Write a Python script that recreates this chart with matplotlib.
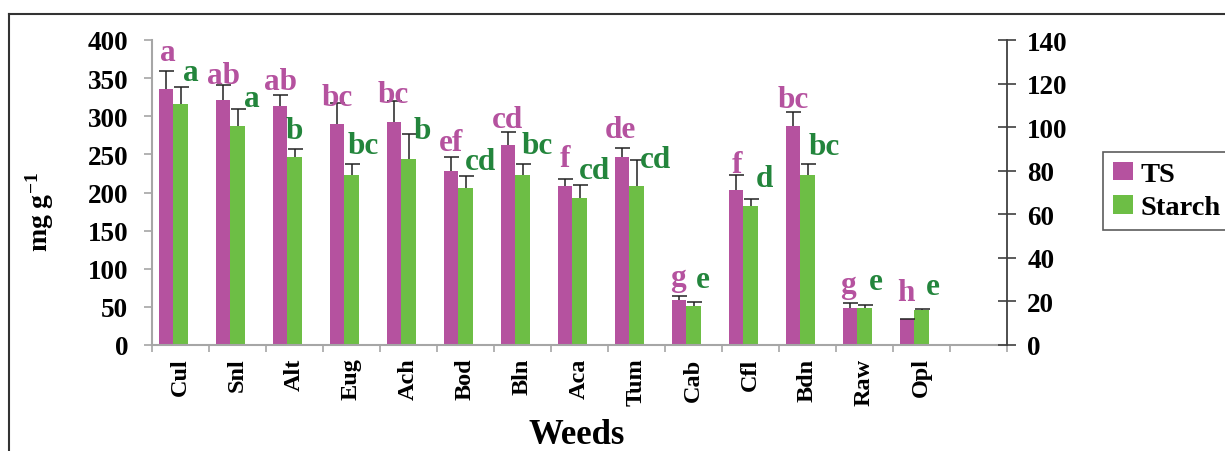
import numpy as np
import matplotlib
matplotlib.use("Agg")
import matplotlib.pyplot as plt
from matplotlib.lines import Line2D
from matplotlib.patches import Patch

# ---- data ----
categories = ["Cul", "Snl", "Alt", "Eug", "Ach", "Bod", "Bln", "Aca", "Tum",
              "Cab", "Cfl", "Bdn", "Raw", "Opl"]
ts_values = [336, 321, 313, 290, 292, 228, 262, 208, 247, 59, 203, 287, 49, 34]
ts_err = [23, 20, 15, 28, 28, 18, 17, 10, 12, 5, 20, 18, 6, 0.5]
starch_values = [316, 287, 247, 223, 244, 206, 223, 193, 208, 51, 182, 223, 48, 46]
starch_err = [22, 23, 10, 15, 33, 15, 15, 17, 35, 5, 10, 15, 4, 1]

ts_letters = ["a", "ab", "ab", "bc", "bc", "ef", "cd", "f", "de", "g", "f", "bc", "g", "h"]
ts_letter_y = [384, 353, 345, 325, 328, 265, 296, 245, 282, 89, 237, 322, 79, 69.5]
ts_letter_dx = [-0.22, -0.25, -0.25, -0.25, -0.27, -0.25, -0.27, -0.25, -0.29,
                -0.27, -0.24, -0.25, -0.29, -0.27]
starch_letters = ["a", "a", "b", "bc", "b", "cd", "bc", "cd", "cd", "e", "d", "bc", "e", "e"]
starch_letter_y = [358, 323, 281, 262, 281, 240, 261, 229, 243, 86, 219, 260, 83, 77]
starch_letter_dx = [0.18, 0.25, 0.0, 0.2, 0.25, 0.27, 0.25, 0.27, 0.33, 0.17,
                    0.24, 0.29, 0.2, 0.2]

left_ticks = [0, 50, 100, 150, 200, 250, 300, 350, 400]
right_ticks = [0, 20, 40, 60, 80, 100, 120, 140]

TS_COLOR = "#B5529F"
ST_COLOR = "#6DBE45"
TS_TEXT = "#B5529F"
ST_TEXT = "#23853C"
SERIF = "Liberation Serif"

plt.rcParams["font.family"] = SERIF
plt.rcParams["font.weight"] = "bold"
plt.rcParams["mathtext.fontset"] = "custom"
plt.rcParams["mathtext.rm"] = "Liberation Serif:bold"
plt.rcParams["mathtext.bf"] = "Liberation Serif:bold"
plt.rcParams["mathtext.default"] = "bf"

fig = plt.figure(figsize=(12.25, 4.52), dpi=100)
ax = fig.add_axes([152 / 1225, 1 - 346 / 452, (1007 - 152) / 1225, (346 - 41) / 452])

x = np.arange(len(categories))
w = 0.25
ax.bar(x - w, ts_values, width=w, color=TS_COLOR, zorder=2)
ax.bar(x, starch_values, width=w, color=ST_COLOR, zorder=2)

for xs, vals, errs in ((x - w, ts_values, ts_err), (x, starch_values, starch_err)):
    eb = ax.errorbar(xs, vals, yerr=[np.zeros(len(errs)), errs], fmt="none",
                     ecolor="#222222", elinewidth=1.1, capsize=5.4, capthick=1.1, zorder=3)
    eb[1][0].set_visible(False)

for i in range(len(categories)):
    ax.text(x[i] + ts_letter_dx[i], ts_letter_y[i], ts_letters[i], color=TS_TEXT,
            fontsize=22.5, fontweight="bold", ha="center", va="center", zorder=4)
    ax.text(x[i] + starch_letter_dx[i], starch_letter_y[i], starch_letters[i], color=ST_TEXT,
            fontsize=22.5, fontweight="bold", ha="center", va="center", zorder=4)

ax.set_xlim(-0.5, 14.5)
ax.set_ylim(0, 400)
ax.set_yticks(left_ticks)
ax.set_yticklabels([str(t) for t in left_ticks], fontsize=19.5, fontweight="bold")
ax.set_xticks(x)
ax.set_xticklabels(categories, rotation=90, fontsize=17.5, fontweight="bold", va="top", ha="center")
ax.set_xticks(np.arange(-0.5, 14.6, 1.0), minor=True)
ax.tick_params(axis="x", which="major", length=0, pad=9)
ax.tick_params(axis="x", which="minor", length=5, color="#A6A6A6", width=1.2, direction="out")
ax.tick_params(axis="y", length=6, color="#A6A6A6", width=1.2, direction="out", pad=11)

for s in ("top", "right"):
    ax.spines[s].set_visible(False)
for s in ("left", "bottom"):
    ax.spines[s].set_color("#A6A6A6")
    ax.spines[s].set_linewidth(1.5)

ax2 = ax.twinx()
ax2.set_ylim(0, 140)
ax2.set_yticks(right_ticks)
ax2.set_yticklabels([str(t) for t in right_ticks], fontsize=19.5, fontweight="bold")
ax2.tick_params(axis="y", direction="inout", length=13, color="#404040", width=1.2, pad=8)
for s in ("top", "left", "bottom"):
    ax2.spines[s].set_visible(False)
ax2.spines["right"].set_color("#404040")
ax2.spines["right"].set_linewidth(1.3)

fig.text(40 / 1225, 1 - 212 / 452, r"mg g$^{-1}$", rotation=90, fontsize=20,
         fontweight="bold", ha="center", va="center")
fig.text(577 / 1225, 1 - 436 / 452, "Weeds", fontsize=25, fontweight="bold",
         ha="center", va="center")

handles = [Patch(facecolor=TS_COLOR, edgecolor="none", label="TS"),
           Patch(facecolor=ST_COLOR, edgecolor="none", label="Starch")]
leg = fig.legend(handles=handles, loc="upper left", bbox_to_anchor=(1103 / 1225, 1 - 153 / 452),
                 prop={"family": SERIF, "weight": "bold", "size": 20.5}, frameon=True,
                 fancybox=False, edgecolor="#333333", handlelength=0.7, handleheight=0.62,
                 handletextpad=0.25, labelspacing=0.28, borderpad=0.35, borderaxespad=0)
leg.get_frame().set_linewidth(1.2)

# outer frame lines
fig.add_artist(Line2D([9 / 1225, 1], [1 - 15 / 452, 1 - 15 / 452], color="#333333", lw=1.5,
                      transform=fig.transFigure))
fig.add_artist(Line2D([9 / 1225, 9 / 1225], [0, 1 - 15 / 452], color="#333333", lw=1.5,
                      transform=fig.transFigure))

fig.savefig("out.png", dpi=100)
